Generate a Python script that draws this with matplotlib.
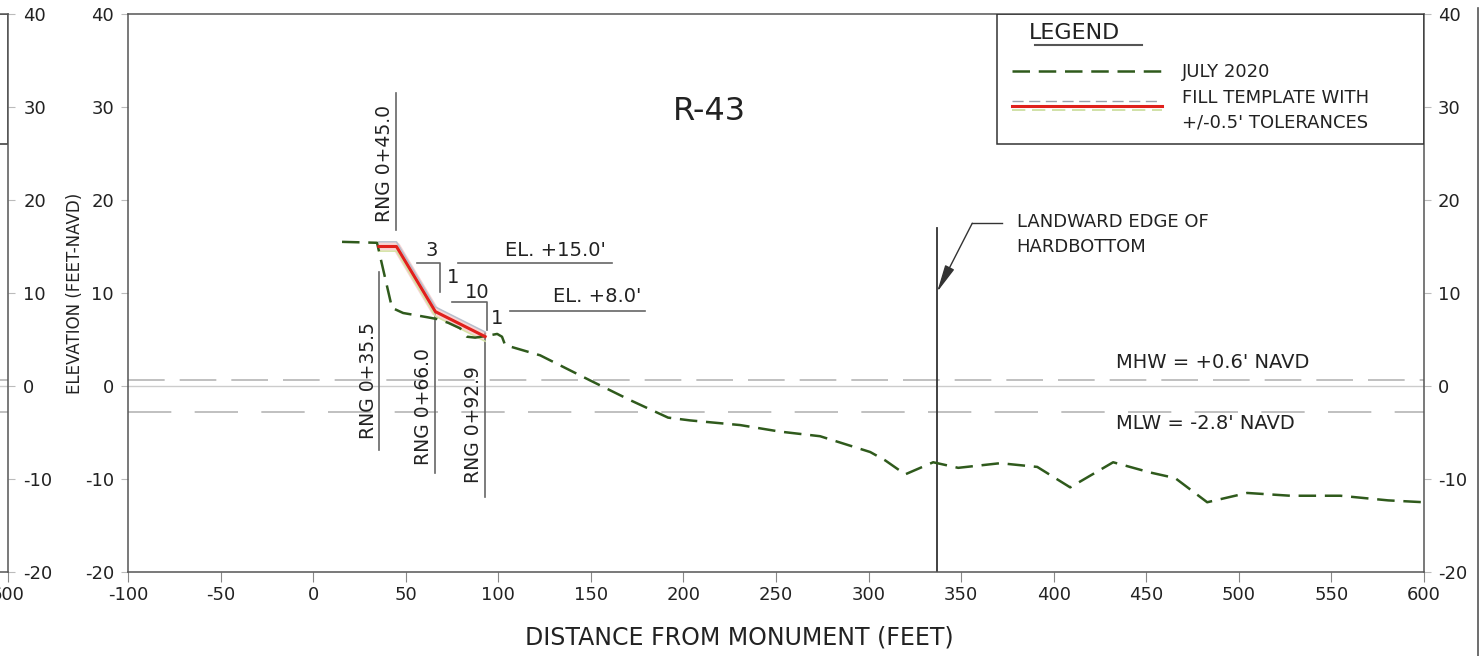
import matplotlib
matplotlib.use("Agg")
import matplotlib.pyplot as plt
from matplotlib.lines import Line2D
from matplotlib.patches import Rectangle

# surveyed beach profile, July 2020 (distance ft, elevation ft NAVD)
profile_x = [15.6, 34.5, 42.6, 48.6, 61.5, 66.9, 72.9, 79.4, 83.1, 87.5, 94.0,
             99.4, 102.0, 103.7, 122.6, 149.6, 171.0, 191.7, 203.6, 230.6,
             252.0, 273.8, 300.9, 309.0, 319.8, 334.9, 348.4, 371.1, 391.1,
             408.9, 432.1, 452.1, 465.6, 482.9, 504.5, 527.8, 554.8, 580.7, 600.0]
profile_y = [15.5, 15.4, 8.4, 7.85, 7.4, 7.2, 6.8, 6.2, 5.3, 5.2, 5.4,
             5.6, 5.3, 4.4, 3.3, 0.6, -1.5, -3.4, -3.7, -4.2,
             -4.9, -5.4, -7.1, -8.0, -9.5, -8.2, -8.8, -8.3, -8.7,
             -10.9, -8.2, -9.3, -9.9, -12.5, -11.5, -11.8, -11.8, -12.3, -12.5]

# fill template: berm at +15.0, 3:1 to +8.0, 10:1 to toe
template_x = [35.5, 45.0, 66.0, 92.9]
template_y = [15.0, 15.0, 8.0, 5.31]
tolerance = 0.5

mhw = 0.6
mlw = -2.8
hardbottom_x = 337.0
range_marks = ["35.5", "45.0", "66.0", "92.9"]

xticks = list(range(-100, 601, 50))
yticks = list(range(-20, 41, 10))

TXT = "#222222"
SPINE = "#555555"
GREEN = "#2f5a1c"

plt.rcParams['font.family'] = ['DejaVu Sans']
plt.rcParams['axes.unicode_minus'] = False

fig = plt.figure(figsize=(14.8, 6.56), dpi=100)

pos = [128 / 1480, 84 / 656, 1296 / 1480, 558 / 656]
ax = fig.add_axes(pos)
# neighbouring sheet, only its right edge shows
ax0 = fig.add_axes([(8 - 1296) / 1480, pos[1], pos[2], pos[3]])

for a in (ax, ax0):
    a.set_xlim(-100, 600)
    a.set_ylim(-20, 40)
    a.set_yticks(yticks)
    for s in a.spines.values():
        s.set_color(SPINE)
        s.set_linewidth(1.1)
    a.tick_params(axis='x', length=7, color='#888888', labelsize=13,
                  labelcolor=TXT, pad=3)
    a.tick_params(axis='y', length=5, color='#bbbbbb', labelsize=13,
                  labelcolor=TXT)
    # tide datums
    a.axhline(0, color='#cccccc', lw=1.0, zorder=1)
    a.axhline(mhw, color='#b5b5b5', lw=1.2, dashes=(22, 9), zorder=1)
    a.axhline(mlw, color='#b5b5b5', lw=1.2, dashes=(26, 14), zorder=1)

ax.set_xticks(xticks)
ax0.set_xticks([600])
ax.tick_params(axis='y', right=True, labelright=True, pad=5)
ax0.tick_params(axis='y', left=False, labelleft=False, right=True,
                labelright=True, pad=6)
ax0.add_patch(Rectangle((0.6705, 0.767), 0.3295, 0.233, transform=ax0.transAxes,
                        fill=False, ec='#333333', lw=1.1))

# profile and template
ax.plot(profile_x, profile_y, color=GREEN, lw=1.8, dashes=(7, 3.5), zorder=4)
ax.plot(template_x, template_y, color='#f2a8a8', lw=6, alpha=0.5, zorder=3,
        solid_capstyle='butt')
ax.plot(template_x, [v + tolerance for v in template_y], color='#b8bfcc',
        lw=1.1, zorder=3)
ax.plot(template_x, [v - tolerance for v in template_y], color='#d4e3a4',
        lw=1.1, zorder=3)
ax.plot(template_x, template_y, color='#e0201c', lw=2.2, zorder=5)

ax.text(213.9, 29.5, "R-43", fontsize=23, color=TXT, ha='center', va='center')

# range station call-outs
lc = '#666666'
rng_text = {"35.5": (29.7, 0.6), "45.0": (38.8, 23.9),
            "66.0": (59.4, -2.2), "92.9": (86.4, -4.1)}
rng_line = {"35.5": (12.3, -6.9), "45.0": (31.5, 16.8),
            "66.0": (7.8, -9.4), "92.9": (5.7, -11.9)}
for r in range_marks:
    xv = float(r)
    y0, y1 = rng_line[r]
    ax.plot([xv, xv], [y0, y1], color=lc, lw=1.2, zorder=2)
    tx, ty = rng_text[r]
    ax.text(tx, ty, "RNG 0+" + r, rotation=90, fontsize=13.5, color=TXT,
            ha='center', va='center')

# slope triangles and elevation notes
ax.plot([56.1, 68.6, 68.6], [13.2, 13.2, 10.1], color=lc, lw=1.2)
ax.text(64.1, 14.6, "3", fontsize=14, color=TXT, ha='center', va='center')
ax.text(75.6, 11.7, "1", fontsize=14, color=TXT, ha='center', va='center')
ax.plot([75.0, 94.0, 94.0], [9.0, 9.0, 6.0], color=lc, lw=1.2)
ax.text(88.5, 10.1, "10", fontsize=14, color=TXT, ha='center', va='center')
ax.text(99.4, 7.3, "1", fontsize=14, color=TXT, ha='center', va='center')

ax.plot([78.3, 161.5], [13.2, 13.2], color=lc, lw=1.2)
ax.text(130.7, 14.6, "EL. +15.0'", fontsize=14, color=TXT, ha='center',
        va='center')
ax.plot([106.4, 179.3], [8.1, 8.1], color=lc, lw=1.2)
ax.text(153.4, 9.6, "EL. +8.0'", fontsize=14, color=TXT, ha='center',
        va='center')

# hardbottom edge
ax.plot([hardbottom_x, hardbottom_x], [17.0, -20], color='#333333', lw=1.3)
ax.plot([372.2, 356.0], [17.5, 17.5], color='#333333', lw=1.0)
ax.annotate("", xy=(hardbottom_x, 10.1), xytext=(356.0, 17.5),
            arrowprops=dict(arrowstyle='-|>,head_length=1.2,head_width=0.22',
                            color='#333333', lw=1.0, mutation_scale=14,
                            shrinkA=0, shrinkB=0))
ax.text(380, 17.6, "LANDWARD EDGE OF", fontsize=13, color=TXT, ha='left',
        va='center')
ax.text(380, 15.0, "HARDBOTTOM", fontsize=13, color=TXT, ha='left',
        va='center')

ax.text(433.8, 2.5, "MHW = +%.1f' NAVD" % mhw, fontsize=14, color=TXT,
        ha='left', va='center')
ax.text(433.8, -4.0, "MLW = %.1f' NAVD" % mlw, fontsize=14, color=TXT,
        ha='left', va='center')

# legend block
T = ax.transAxes
ax.add_patch(Rectangle((0.6705, 0.767), 0.3295, 0.233, transform=T,
                       fill=False, ec='#333333', lw=1.1, zorder=6))
ax.text(0.7307, 0.966, "LEGEND", transform=T, fontsize=16, color=TXT,
        ha='center', va='center')
ax.plot([0.6998, 0.7824], [0.9444, 0.9444], transform=T, color='#555555', lw=1.5)
ax.plot([0.6821, 0.7978], [0.8978, 0.8978], transform=T, color=GREEN, lw=1.8,
        dashes=(7, 3.5))
ax.plot([0.6821, 0.7978], [0.8441, 0.8441], transform=T, color='#9aa0aa', lw=1.0,
        dashes=(8, 4))
ax.plot([0.6821, 0.7978], [0.8351, 0.8351], transform=T, color='#e0201c', lw=2.2)
ax.plot([0.6821, 0.7978], [0.8280, 0.8280], transform=T, color='#c8dc98', lw=1.2,
        dashes=(8, 4))
ax.text(0.8133, 0.8961, "JULY 2020", transform=T, fontsize=13, color=TXT,
        ha='left', va='center')
ax.text(0.8133, 0.8495, "FILL TEMPLATE WITH", transform=T, fontsize=13,
        color=TXT, ha='left', va='center')
ax.text(0.8133, 0.8047, "+/-0.5' TOLERANCES", transform=T, fontsize=13,
        color=TXT, ha='left', va='center')

# axis titles
ax.text(0.472, -0.118, "DISTANCE FROM MONUMENT (FEET)", transform=T,
        fontsize=17, color=TXT, ha='center', va='center')
ax.text(-0.0409, 0.5, "ELEVATION (FEET-NAVD)", transform=T, rotation=90,
        fontsize=12, color=TXT, ha='center', va='center')

# edge of the next sheet
fig.add_artist(Line2D([1478 / 1480, 1478 / 1480], [0, 1 - 8 / 656],
                      color='#555555', lw=1.2))

fig.savefig("out.png", dpi=100)
